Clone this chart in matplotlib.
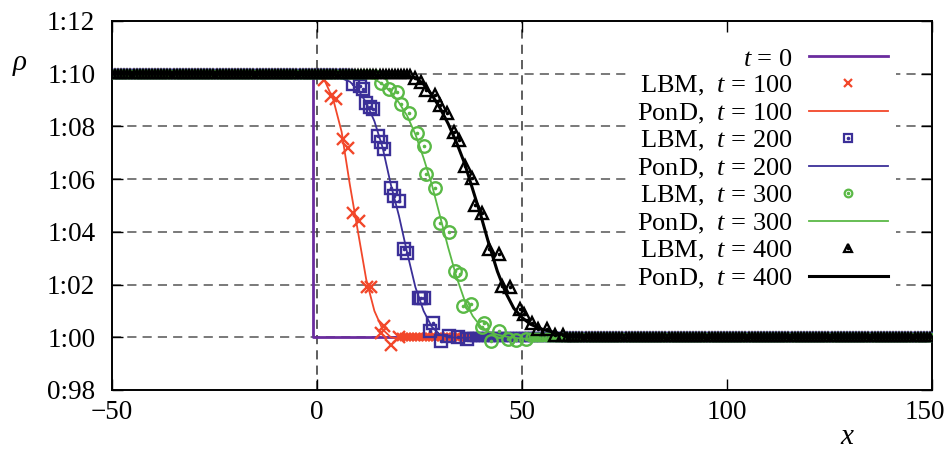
import numpy as np
import matplotlib
matplotlib.use("Agg")
import matplotlib.pyplot as plt
import matplotlib.transforms as mtransforms
from matplotlib.lines import Line2D
from matplotlib.legend_handler import HandlerTuple

plt.rcParams['font.family'] = ['Liberation Serif', 'DejaVu Serif']
plt.rcParams['mathtext.fontset'] = 'custom'
plt.rcParams['mathtext.rm'] = 'Liberation Serif'
plt.rcParams['mathtext.it'] = 'Liberation Serif:italic'

# plateau levels and lattice nodes of the LBM runs
rho_high = 1.10
rho_low = 1.00
lattice_x = np.arange(-50, 150.01, 0.75)

# t = 0 initial step
x_t0 = [-50, -1, -1, 150]
rho_t0 = [1.10, 1.10, 1.00, 1.00]

# PonD solutions
x_p100 = [-50, 0, 2, 4, 6, 8, 10, 12, 14, 16, 18, 20, 25, 150]
rho_p100 = [1.10, 1.0995, 1.097, 1.090, 1.078, 1.058, 1.040, 1.022, 1.010, 1.003, 1.000, 0.9995, 1.000, 1.000]

x_p200 = [-50, 4, 8, 10, 12, 14, 16, 18, 20, 22, 24, 26, 28, 30, 32, 35, 40, 150]
rho_p200 = [1.10, 1.0995, 1.097, 1.094, 1.089, 1.082, 1.072, 1.058, 1.046, 1.032, 1.019, 1.010, 1.004, 1.001,
            1.000, 0.9998, 1.000, 1.000]

x_p300 = [-50, 10, 14, 16, 18, 20, 22, 24, 26, 28, 30, 32, 34, 36, 38, 40, 42, 44, 47, 50, 55, 60, 150]
rho_p300 = [1.10, 1.0995, 1.098, 1.096, 1.093, 1.089, 1.084, 1.077, 1.068, 1.058, 1.046, 1.034, 1.023, 1.014,
            1.008, 1.004, 1.002, 1.001, 1.000, 0.9995, 0.9995, 0.9995, 0.9995]

x_p400 = [-50, 20, 24, 26, 28, 30, 32, 34, 36, 38, 40, 42, 44, 46, 48, 50, 52, 55, 60, 65, 70, 150]
rho_p400 = [1.10, 1.0995, 1.0985, 1.096, 1.092, 1.087, 1.081, 1.074, 1.066, 1.056, 1.046, 1.035, 1.025, 1.017,
            1.011, 1.0075, 1.005, 1.003, 1.001, 1.000, 0.9998, 1.000]

# LBM points in the transition zones
x_l100 = [1.8, 3.4, 4.7, 6.4, 7.6, 8.8, 10.3, 12.3, 13.2, 16.4, 15.7, 18.1, 19.9]
rho_l100 = [1.0975, 1.0917, 1.0905, 1.0753, 1.0719, 1.0472, 1.0442, 1.019, 1.019, 1.0044, 1.0017, 0.997, 1.000]

x_l200 = [8.8, 10.5, 11.3, 12.0, 13.0, 13.7, 15.0, 15.7, 16.4, 18.1, 18.9, 19.9, 21.3, 22.0, 24.8, 25.4, 26.0,
          28.4, 27.5, 32.1, 30.3, 34.5, 36.5]
rho_l200 = [1.0962, 1.0955, 1.0943, 1.089, 1.0875, 1.0867, 1.0765, 1.074, 1.0715, 1.0567, 1.0537, 1.0518, 1.0336,
            1.032, 1.015, 1.015, 1.015, 1.0055, 1.0025, 1.0006, 0.9985, 1.000, 0.9995]

x_l300 = [15.7, 17.6, 19.4, 20.6, 22.5, 24.3, 26.0, 26.7, 28.7, 29.9, 32.1, 33.6, 34.8, 35.5, 37.5, 40.7, 40.2,
          44.4, 42.5, 46.5, 48.5, 51.0]
rho_l300 = [1.0966, 1.0943, 1.093, 1.0886, 1.0852, 1.0776, 1.0727, 1.062, 1.0567, 1.0434, 1.040, 1.0252, 1.024,
            1.012, 1.0125, 1.0055, 1.004, 1.0025, 0.9985, 0.9992, 0.999, 0.9995]

x_l400 = [23.8, 25.3, 26.7, 28.7, 29.9, 31.6, 33.3, 34.6, 36.0, 37.7, 38.5, 40.2, 41.9, 44.4, 45.1, 47.0, 49.5,
          50.5, 52.5, 54.0, 56.1, 58.0, 60.0]
rho_l400 = [1.0985, 1.097, 1.094, 1.092, 1.088, 1.085, 1.078, 1.075, 1.065, 1.0605, 1.050, 1.047, 1.0336, 1.0317,
            1.0195, 1.019, 1.0108, 1.009, 1.0055, 1.003, 1.0032, 1.001, 1.001]

# where each LBM run leaves the upper plateau / reaches the lower one
lbm_ends = {100: (1.0, 20.5), 200: (8.0, 37.0), 300: (15.0, 52.0), 400: (23.0, 61.0)}

y_ticks = [0.98, 1.00, 1.02, 1.04, 1.06, 1.08, 1.10, 1.12]
y_tick_labels = ['0:98', '1:00', '1:02', '1:04', '1:06', '1:08', '1:10', '1:12']
x_ticks = [-50, 0, 50, 100, 150]
x_tick_labels = ['\u221250', '0', '50', '100', '150']
vgrid_x = [0, 50]

c_t0 = '#6a2c9e'
c_red = '#f2472a'
c_blue = '#3b2f98'
c_green = '#5ab946'
c_black = '#000000'

fig = plt.figure(figsize=(9.45, 4.5), dpi=100)
ax = fig.add_axes([112 / 945, 1 - 390 / 450, 820 / 945, 369 / 450])

for yv in y_ticks[1:-1]:
    ax.axhline(yv, color='#555555', lw=1.1, ls=(0, (6, 4)), zorder=0.5)
for xv in vgrid_x:
    ax.axvline(xv, color='#333333', lw=1.1, ls=(0, (6, 4)), zorder=0.5)

ax.plot(x_t0, rho_t0, color=c_t0, lw=2.0, zorder=1)


def lbm(xs, ys, t, color, marker, ms, dot, z):
    hi_end, lo_start = lbm_ends[t]
    xh = lattice_x[lattice_x <= hi_end]
    xl = lattice_x[lattice_x >= lo_start]
    mfc = 'none' if marker != 'x' else color
    kw = dict(ls='none', color=color, mfc=mfc, mew=1.7, zorder=z)
    ax.plot(xh, np.full(xh.size, rho_high), marker=marker, ms=5.5, **kw)
    ax.plot(xl, np.full(xl.size, rho_low), marker=marker, ms=5.5, **kw)
    ax.plot(xs, ys, marker=marker, ms=ms, **kw)
    if dot:
        ax.plot(xs, ys, ls='none', marker='o', ms=1.6, color=color, zorder=z)


lbm(x_l100, rho_l100, 100, c_red, 'x', 9, False, 2)
ax.plot(x_p100, rho_p100, color=c_red, lw=1.3, zorder=2.1)
lbm(x_l200, rho_l200, 200, c_blue, 's', 8.5, True, 3)
ax.plot(x_p200, rho_p200, color=c_blue, lw=1.3, zorder=3.1)
lbm(x_l300, rho_l300, 300, c_green, 'o', 9, True, 4)
ax.plot(x_p300, rho_p300, color=c_green, lw=1.3, zorder=4.1)
lbm(x_l400, rho_l400, 400, c_black, '^', 9, True, 5)
ax.plot(x_p400, rho_p400, color=c_black, lw=2.2, zorder=5.1)

ax.set_xlim(-50, 150)
ax.set_ylim(0.98, 1.12)
ax.set_xticks(x_ticks)
ax.set_xticklabels(x_tick_labels)
ax.set_yticks(y_ticks)
ax.set_yticklabels(y_tick_labels)
ax.tick_params(direction='in', top=True, right=True, length=8, width=1.0, labelsize=19.5)
ax.tick_params(axis='y', pad=12)
ax.tick_params(axis='x', pad=7)
for s in ax.spines.values():
    s.set_linewidth(1.4)

# nudge the last x label so it stays inside the picture
last = ax.get_xticklabels()[-1]
last.set_transform(last.get_transform() + mtransforms.ScaledTranslation(-7 / 100, 0, fig.dpi_scale_trans))

fig.text(20 / 945, 1 - 65 / 450, r'$\rho$', fontsize=21, ha='center', va='center')
fig.text(848 / 945, 1 - 437 / 450, r'$x$', fontsize=21, ha='center', va='center')


def mk(color, marker):
    m = Line2D([], [], ls='none', marker=marker, ms=5.5, color=color,
               mfc=color if marker == 'x' else 'none', mew=1.6)
    if marker == 'x':
        return m
    d = Line2D([], [], ls='none', marker='o', ms=1.6, color=color)
    return (m, d)


handles = [Line2D([], [], color=c_t0, lw=2.0),
           mk(c_red, 'x'), Line2D([], [], color=c_red, lw=1.3),
           mk(c_blue, 's'), Line2D([], [], color=c_blue, lw=1.3),
           mk(c_green, 'o'), Line2D([], [], color=c_green, lw=1.3),
           mk(c_black, '^'), Line2D([], [], color=c_black, lw=2.2)]
labels = [r'$t$ = 0',
          r'LBM,  $t$ = 100', r'PonD,  $t$ = 100',
          r'LBM,  $t$ = 200', r'PonD,  $t$ = 200',
          r'LBM,  $t$ = 300', r'PonD,  $t$ = 300',
          r'LBM,  $t$ = 400', r'PonD,  $t$ = 400']
leg = ax.legend(handles, labels, loc='upper right', bbox_to_anchor=(909 / 945, 1 - 26 / 450),
                bbox_transform=fig.transFigure, markerfirst=False, fontsize=19,
                handlelength=3.0, handletextpad=0.6, labelspacing=0.13, borderpad=0.3,
                frameon=True, fancybox=False, framealpha=1.0,
                handler_map={tuple: HandlerTuple(ndivide=1, pad=0)})
leg.get_frame().set_edgecolor('none')
leg.get_frame().set_facecolor('white')
leg.set_zorder(10)

fig.savefig('out.png', dpi=100)
